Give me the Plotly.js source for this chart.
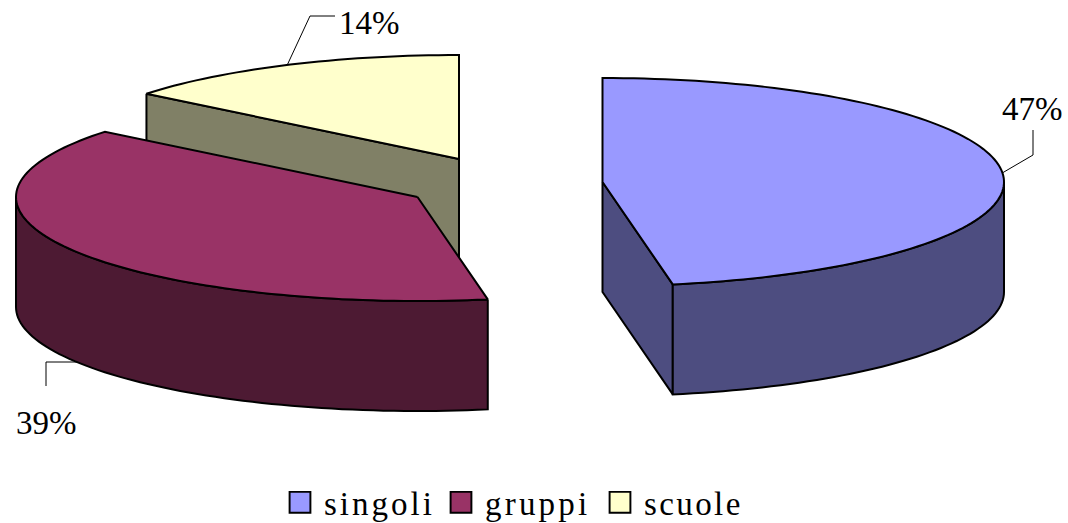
<!DOCTYPE html>
<html>
<head>
<meta charset="utf-8">
<script src="https://cdn.plot.ly/plotly-3.0.1.min.js"></script>
<style>
html,body{margin:0;padding:0;background:#fff;}
#chart{width:1068px;height:523px;}
.legendtext{letter-spacing:3px;}
.legend2text{letter-spacing:3.2px;}
.legend3text{letter-spacing:2.4px;}
.legend .scrollbox,.legend2 .scrollbox,.legend3 .scrollbox{clip-path:none !important;}
.legend .scatterpts,.legend2 .scatterpts,.legend3 .scatterpts{scale:1.3;transform-box:fill-box;transform-origin:center;translate:-10px 0;}
</style>
</head>
<body>
<div id="chart"></div>
<script>
var categories = ['singoli', 'gruppi', 'scuole'];
var shares = [47.2, 38.6, 14.2];
var valueLabels = ['47%', '39%', '14%'];
var topColors = ['#9999FF', '#993366', '#FFFFCC'];
var sideColors = ['#4D4D80', '#4D1A33', '#808066'];

// Pseudo-3D pie geometry (pixels): each exploded slice's apex, the ellipse radii, the extrusion depth
var apexX = [602.5, 417.5, 459];
var apexY = [182, 197, 159];
var radiusX = 401.5, radiusY = 104, depth = 110;

function pt(i, deg, dz) {
  var a = deg * Math.PI / 180;
  return [apexX[i] + radiusX * Math.sin(a), apexY[i] - radiusY * Math.cos(a) + (dz || 0)];
}
function arc(i, from, to, dz) {
  var out = [], n = Math.max(2, Math.ceil(Math.abs(to - from) / 1.5));
  for (var k = 0; k <= n; k++) out.push(pt(i, from + (to - from) * k / n, dz));
  return out;
}
function poly(points, fill, w) {
  return {
    type: 'scatter', mode: 'lines', fill: 'toself', fillcolor: fill,
    x: points.map(function (p) { return p[0]; }),
    y: points.map(function (p) { return p[1]; }),
    line: {color: '#000', width: w || 2, simplify: false},
    hoverinfo: 'skip', showlegend: false
  };
}
function leader(points) {
  return {
    type: 'scatter', mode: 'lines',
    x: points.map(function (p) { return p[0]; }),
    y: points.map(function (p) { return p[1]; }),
    line: {color: '#000', width: 1}, hoverinfo: 'skip', showlegend: false
  };
}

var total = shares.reduce(function (a, b) { return a + b; }, 0);
var start = [], end = [], acc = 0;
shares.forEach(function (v) { start.push(acc / total * 360); acc += v; end.push(acc / total * 360); });
function apex(i, dz) { return [apexX[i], apexY[i] + (dz || 0)]; }

var traces = [];
// leader lines, anchored at each slice's mid-angle
var mid0 = pt(0, (start[0] + end[0]) / 2), mid1 = pt(1, (start[1] + end[1]) / 2, depth), mid2 = pt(2, (start[2] + end[2]) / 2);
traces.push(leader([mid0, [1033, 155], [1033, 130]]));
traces.push(leader([[mid1[0] + 6, 362], [46, 362], [46, 386]]));
traces.push(leader([[mid2[0], mid2[1] + 3], [310, 16], [335, 16]]));

// scuole
traces.push(poly([pt(2, start[2]), apex(2), apex(2, depth), pt(2, start[2], depth), pt(2, start[2])], sideColors[2]));
traces.push(poly([apex(2)].concat(arc(2, start[2], end[2])).concat([apex(2)]), topColors[2]));
// gruppi
traces.push(poly(arc(1, start[1], 270).concat(arc(1, 270, start[1], depth)).concat([pt(1, start[1])]), sideColors[1]));
traces.push(poly([apex(1)].concat(arc(1, start[1], end[1])).concat([apex(1)]), topColors[1]));
// singoli
traces.push(poly([apex(0), pt(0, end[0]), pt(0, end[0], depth), apex(0, depth), apex(0)], sideColors[0]));
traces.push(poly(arc(0, 90, end[0]).concat(arc(0, end[0], 90, depth)).concat([pt(0, 90)]), sideColors[0]));
traces.push(poly([apex(0)].concat(arc(0, start[0], end[0])).concat([apex(0)]), topColors[0]));

// legend entries: one small legend per category, placed side by side
var legendIds = ['legend', 'legend2', 'legend3'];
var legendLeft = [284, 445, 604];
categories.forEach(function (c, i) {
  traces.push({
    type: 'scatter', mode: 'markers', name: c, x: [null], y: [null], legend: legendIds[i],
    marker: {symbol: 'square', size: 16, color: topColors[i], line: {color: '#000', width: 1.5}},
    hoverinfo: 'skip', showlegend: true
  });
});

var serif = '"Liberation Serif", "DejaVu Serif", serif';
var layout = {
  width: 1068, height: 523,
  margin: {l: 0, r: 0, t: 0, b: 0, autoexpand: false},
  paper_bgcolor: '#fff', plot_bgcolor: '#fff',
  xaxis: {range: [0, 1068], visible: false, fixedrange: true},
  yaxis: {range: [523, 0], visible: false, fixedrange: true},
  showlegend: true,
  annotations: [
    {x: 1032, y: 109, text: valueLabels[0]},
    {x: 46, y: 423, text: valueLabels[1]},
    {x: 369, y: 23, text: valueLabels[2]}
  ].map(function (a) {
    return {x: a.x, y: a.y, text: a.text, xref: 'x', yref: 'y', showarrow: false,
      xanchor: 'center', yanchor: 'middle', font: {family: serif, size: 33, color: '#000'}};
  })
};
legendIds.forEach(function (id, i) {
  layout[id] = {
    x: legendLeft[i] / 1068, xanchor: 'left', y: -0.014, yanchor: 'bottom',
    font: {family: serif, size: 33, color: '#000'},
    itemwidth: 30, itemclick: false, itemdoubleclick: false,
    bgcolor: 'rgba(0,0,0,0)', borderwidth: 0
  };
});
Plotly.newPlot('chart', traces, layout, {displayModeBar: false, responsive: false});
</script>
</body>
</html>
